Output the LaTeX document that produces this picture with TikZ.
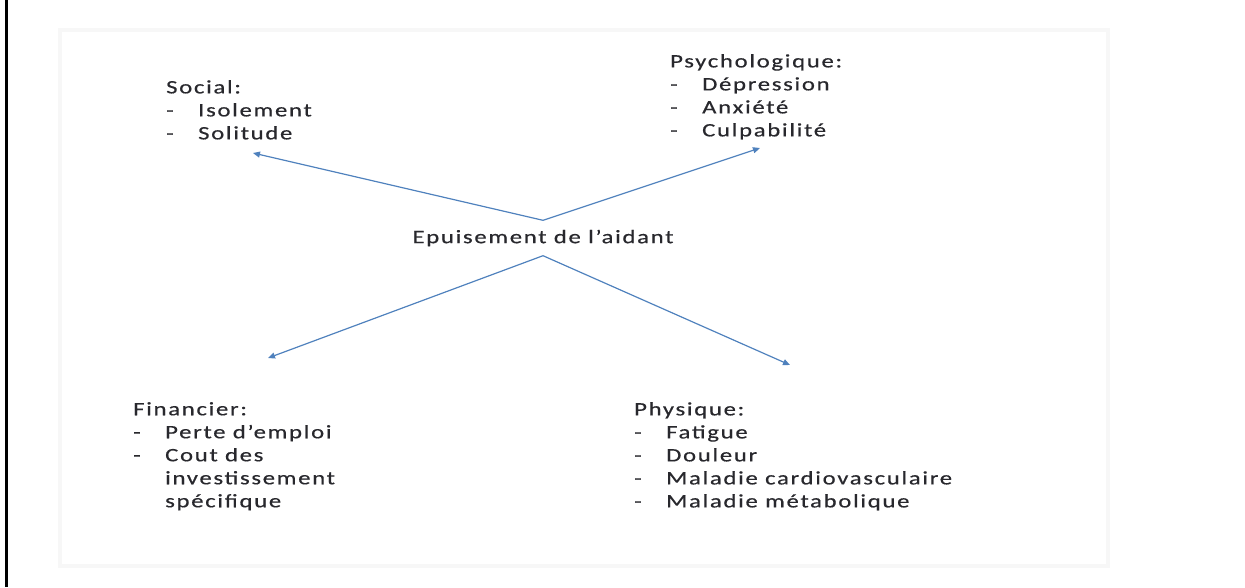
\documentclass[tikz,border=0pt]{standalone}
\usepackage{fontspec}
\setmainfont{Carlito}[FakeStretch=1.3,LetterSpace=9,FakeBold=0.5]
\usepackage{tikz}
\usetikzlibrary{arrows.meta}
\definecolor{fleche}{RGB}{79,129,189}
\definecolor{texte}{RGB}{40,40,45}
\tikzstyle{lien} = [draw=fleche,line width=1.2pt,-{Triangle[length=7pt,width=6pt]}]
\tikzstyle{bloc} = [anchor=north west,inner sep=0pt,align=left,text=texte,font=\fontsize{19}{23}\selectfont]
\newcommand{\tiret}[1]{\makebox[32pt][l]{-}#1}
\newcommand{\retrait}[1]{\makebox[32pt][l]{}#1}

\begin{document}
\begin{tikzpicture}[x=1pt,y=-1pt]
\useasboundingbox (0,0) rectangle (1245,587);

%cadre
\draw[black!3,line width=4pt] (60,30) rectangle (1108,566);
\draw[black,line width=2.5pt] (6.5,0) -- (6.5,587);

%blocs
\node[bloc] (social) at (166,80) {Social:\\ \tiret{Isolement}\\ \tiret{Solitude}};
\node[bloc] (psycho) at (670,54) {Psychologique:\\ \tiret{Dépression}\\ \tiret{Anxiété}\\ \tiret{Culpabilité}};
\node[bloc] (financier) at (133,402) {Financier:\\ \tiret{Perte d’emploi}\\ \tiret{Cout des}\\ \retrait{investissement}\\ \retrait{spécifique}};
\node[bloc] (physique) at (634,402) {Physique:\\ \tiret{Fatigue}\\ \tiret{Douleur}\\ \tiret{Maladie cardiovasculaire}\\ \tiret{Maladie métabolique}};

\node[text=texte,font=\fontsize{19}{23}\selectfont,inner sep=0pt,minimum height=35pt] (aid) at (543,238) {Epuisement de l’aidant};

%bouts des fleches
\coordinate (vSocial) at (253,153);
\coordinate (vPsycho) at (760,148);
\coordinate (vFinancier) at (268,358);
\coordinate (vPhysique) at (790,365);

\draw[lien] (aid.north) -- (vSocial);
\draw[lien] (aid.north) -- (vPsycho);
\draw[lien] (aid.south) -- (vFinancier);
\draw[lien] (aid.south) -- (vPhysique);

\end{tikzpicture}
\end{document}
